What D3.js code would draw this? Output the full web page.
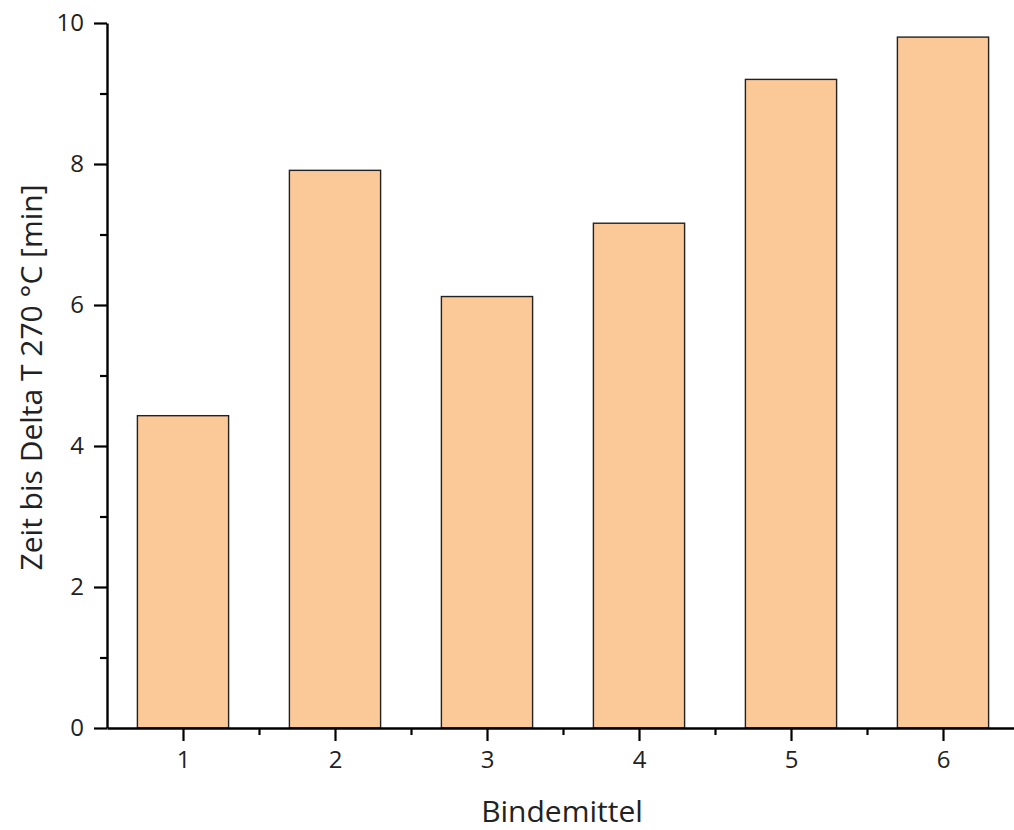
<!DOCTYPE html>
<html>
<head>
<meta charset="utf-8">
<script src="https://cdn.jsdelivr.net/npm/d3@7"></script>
<style>
	html, body { margin: 0; padding: 0; background: #fff; }
	svg { display: block; }
</style>
</head>
<body>
<svg id="chart"></svg>
<script>
// Data
const categories = [1, 2, 3, 4, 5, 6];
const values = [4.43, 7.91, 6.12, 7.16, 9.2, 9.8];
const yTicks = [0, 2, 4, 6, 8, 10];

const width = 1014;
const height = 830;
const marginLeft = 107;
const marginTop = 23;
const marginBottom = 102;

const x = d3.scaleLinear().domain([0.5, 6.5]).range([marginLeft, marginLeft + 912]);
const y = d3.scaleLinear().domain([0, 10]).range([height - marginBottom, marginTop]);

const barWidth = (x(2) - x(1)) * 0.6;

const svg = d3
	.select('#chart')
	.attr('width', width)
	.attr('height', height)
	.style('font-family', '"Open Sans", "Noto Sans", sans-serif');

// Bars
svg
	.append('g')
	.selectAll('rect')
	.data(values)
	.join('rect')
	.attr('x', (d, i) => x(categories[i]) - barWidth / 2)
	.attr('y', (d) => y(d))
	.attr('width', barWidth)
	.attr('height', (d) => y(0) - y(d))
	.attr('fill', '#fbc898')
	.attr('stroke', '#222')
	.attr('stroke-width', 1.4);

// Minor ticks first, then major ticks on top
const xMinor = svg
	.append('g')
	.attr('transform', `translate(0,${y(0)})`)
	.call(d3.axisBottom(x).tickValues(d3.range(1.5, 6.5, 1)).tickSize(7).tickFormat(''));
xMinor.select('.domain').remove();

const yMinor = svg
	.append('g')
	.attr('transform', `translate(${marginLeft},0)`)
	.call(d3.axisLeft(y).tickValues(d3.range(1, 10, 2)).tickSize(7).tickFormat(''));
yMinor.select('.domain').remove();

const xAxis = svg
	.append('g')
	.attr('transform', `translate(0,${y(0)})`)
	.call(
		d3
			.axisBottom(x)
			.tickValues(categories)
			.tickFormat(d3.format('d'))
			.tickSize(13)
			.tickSizeOuter(0)
			.tickPadding(10)
	);

const yAxis = svg
	.append('g')
	.attr('transform', `translate(${marginLeft},0)`)
	.call(
		d3
			.axisLeft(y)
			.tickValues(yTicks)
			.tickFormat(d3.format('d'))
			.tickSize(13)
			.tickSizeOuter(0)
			.tickPadding(10)
	);

[xMinor, yMinor, xAxis, yAxis].forEach((g) => {
	g.attr('font-family', null).attr('font-size', null);
	g.selectAll('line').attr('stroke', '#000').attr('stroke-width', 2.2);
	g.select('.domain').attr('stroke', '#000').attr('stroke-width', 2.4);
	g.selectAll('text').attr('fill', '#222').style('font-size', '24px');
});

// Axis titles
svg
	.append('text')
	.attr('x', 562)
	.attr('y', 822)
	.attr('text-anchor', 'middle')
	.attr('fill', '#222')
	.style('font-size', '30px')
	.text('Bindemittel');

svg
	.append('text')
	.attr('transform', `translate(42,${(y(0) + y(10)) / 2 + 2}) rotate(-90)`)
	.attr('text-anchor', 'middle')
	.attr('fill', '#222')
	.style('font-size', '30px')
	.text('Zeit bis Delta T 270 °C [min]');
</script>
</body>
</html>
